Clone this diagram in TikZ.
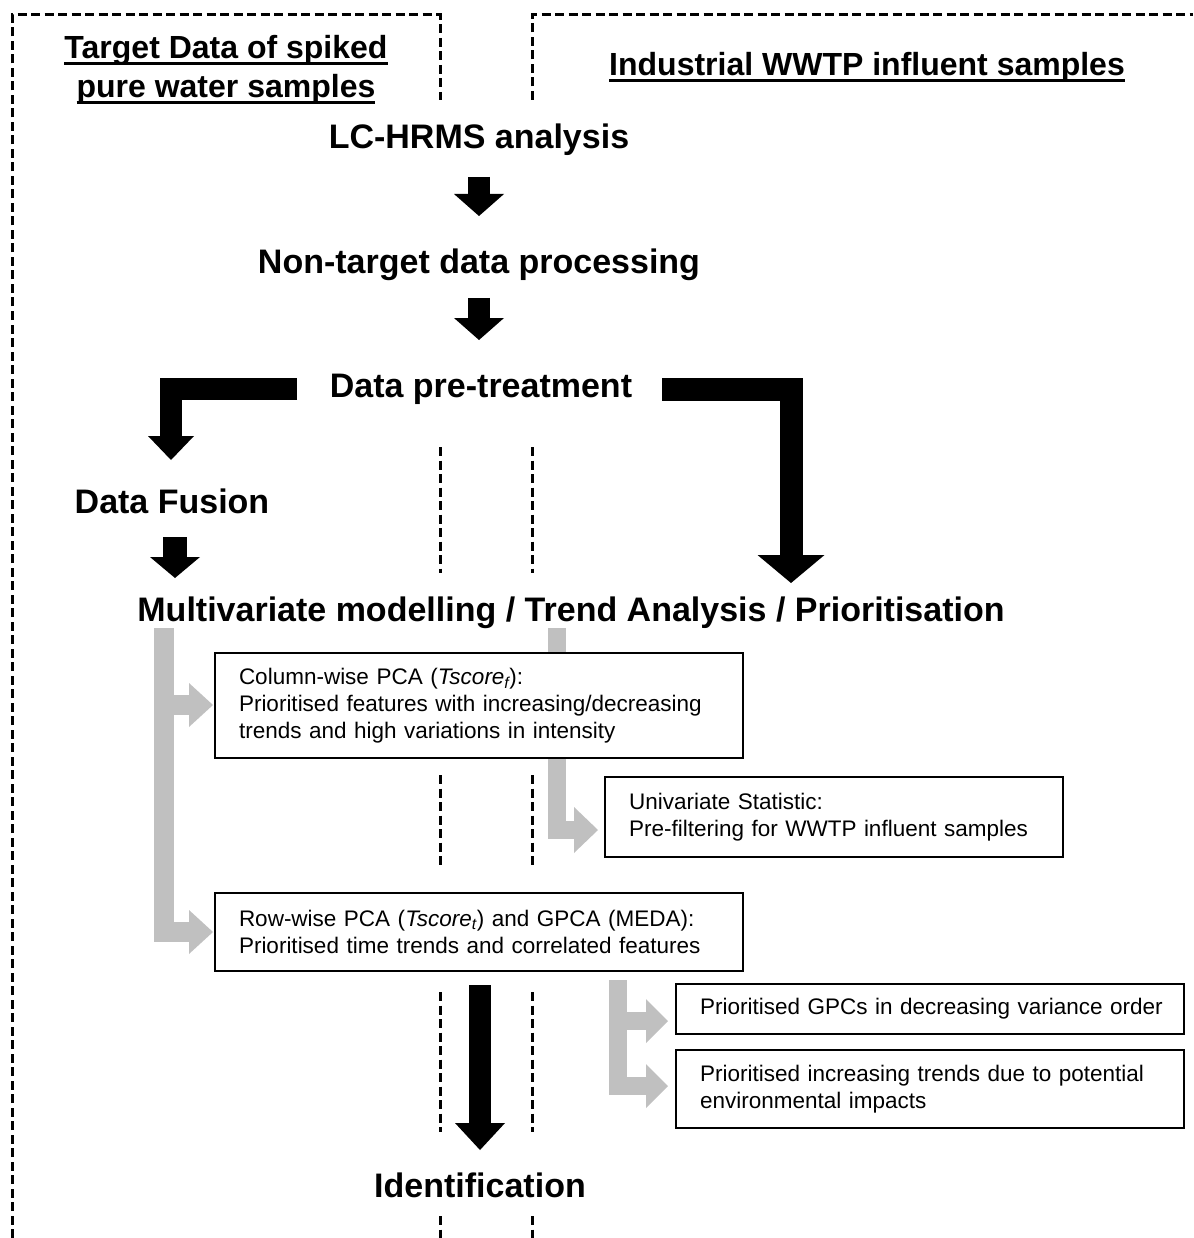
\documentclass[tikz,border=0pt]{standalone}
\usepackage{fontspec}
\setmainfont{Liberation Sans}
\usetikzlibrary{arrows.meta}
\definecolor{lightarrow}{RGB}{192,192,192}
% thick underline for the zone headings
\newcommand{\hdline}[1]{\setbox0\hbox{#1}\rlap{\rule[-6pt]{\wd0}{3pt}}\box0}
\begin{document}
\begin{tikzpicture}[x=1pt,y=-1pt,
  every node/.style={inner sep=0pt},
  stage/.style={font=\fontsize{34}{40}\selectfont\bfseries, anchor=base},
  header/.style={font=\fontsize{32}{39}\selectfont\bfseries, anchor=base},
  stepbox/.style n args={2}{draw, line width=2pt, fill=white, anchor=north west,
    inner xsep=24pt, inner ysep=0pt, align=left, text width=#1-48pt,
    minimum width=#1, minimum height=#2, font=\fontsize{22.5}{27}\selectfont},
  zone/.style={dash pattern=on 9pt off 4.5pt, line width=3pt},
  blockarrow/.style n args={3}{draw=black, line width=#1, line join=miter,
    -{Triangle[width=#2,length=#3,line width=0pt]}},
  greyarrow/.style n args={3}{draw=lightarrow, line width=#1, line join=miter,
    -{Triangle[width=#2,length=#3,line width=0pt]}},
]
\useasboundingbox (0,0) rectangle (1193,1238);

% dashed zone borders
\draw[zone] (12,1238) -- (12,15) -- (440,15) -- (440,100);
\draw[zone] (532,100) -- (532,15) -- (1193,15);
\foreach \ya/\yb in {447/573, 775/868, 992/1132, 1216/1238}{
  \draw[zone] (440,\ya) -- (440,\yb);
  \draw[zone] (532,\ya) -- (532,\yb);
}

% zone headings
\node[header] (tgta) at (226,59) {\hdline{Target Data of spiked}};
\node[header] (tgtb) at (226,98) {\hdline{pure water samples}};
\node[header] (ind) at (867,76) {\hdline{Industrial WWTP influent samples}};

% workflow stages
\node[stage] (lc) at (479,149) {LC-HRMS analysis};
\node[stage] (nt) at (479,274) {Non-target data processing};
\node[stage] (pre) at (481,397) {Data pre-treatment};
\node[stage] (fus) at (172,513) {Data Fusion};
\node[stage] (mv) at (571,621) {Multivariate modelling / Trend Analysis / Prioritisation};
\node[stage] (ident) at (480,1197) {Identification};

% arrow end points
\coordinate (lcA) at (479,177);   \coordinate (ntA) at (479,216);
\coordinate (ntB) at (479,298);   \coordinate (preB) at (479,340);
\coordinate (preL) at (297,389);  \coordinate (fusT) at (171,460);
\coordinate (preR) at (662,389.5);\coordinate (mvR) at (791,583);
\coordinate (fusB) at (175,537);  \coordinate (mvL) at (175,578);
\coordinate (idT) at (480,985);   \coordinate (idB) at (480,1150);

% black flow arrows
\draw[blockarrow={22pt}{50pt}{22pt}] (lcA) -- (ntA);
\draw[blockarrow={22pt}{50pt}{22pt}] (ntB) -- (preB);
\draw[blockarrow={22pt}{46pt}{24pt}] (preL) -| (fusT);
\draw[blockarrow={23pt}{67pt}{28pt}] (preR) -| (mvR);
\draw[blockarrow={24pt}{50pt}{21pt}] (fusB) -- (mvL);
\draw[blockarrow={22pt}{50pt}{27pt}] (idT) -- (idB);

% grey branching arrows
\coordinate (gl) at (164,628);
\coordinate (glA) at (164,705);  \coordinate (boxAin) at (213,705);
\coordinate (glC) at (164,932);  \coordinate (boxCin) at (213,932);
\draw[greyarrow={20pt}{44pt}{24pt}] (gl) -- (glC) -- (boxCin);
\draw[greyarrow={20pt}{44pt}{24pt}] (glA) -- (boxAin);

\coordinate (gm) at (557,628);
\coordinate (gmB) at (557,830); \coordinate (boxBin) at (598,830);
\draw[greyarrow={18pt}{46pt}{24pt}] (gm) -- (gmB) -- (boxBin);

\coordinate (gr) at (618,980);
\coordinate (grD) at (618,1021); \coordinate (boxDin) at (668,1021);
\coordinate (grE) at (618,1086); \coordinate (boxEin) at (668,1086);
\draw[greyarrow={18pt}{44pt}{22pt}] (gr) -- (grE) -- (boxEin);
\draw[greyarrow={18pt}{44pt}{22pt}] (grD) -- (boxDin);

% result boxes
\node[stepbox={528pt}{105pt}] (colpca) at (214,652)
  {\mbox{Column-wise PCA (\textit{Tscore\textsubscript{f}}):}\\
   \mbox{Prioritised features with increasing/decreasing}\\
   \mbox{trends and high variations in intensity}};
\node[stepbox={458pt}{80pt}] (univ) at (604,776)
  {\mbox{Univariate Statistic:}\\
   \mbox{Pre-filtering for WWTP influent samples}};
\node[stepbox={528pt}{78pt}] (rowpca) at (214,892)
  {\mbox{Row-wise PCA (\textit{Tscore\textsubscript{t}}) and GPCA (MEDA):}\\
   \mbox{Prioritised time trends and correlated features}};
\node[stepbox={508pt}{50pt}] (gpcs) at (675,983)
  {\mbox{Prioritised GPCs in decreasing variance order}};
\node[stepbox={508pt}{78pt}] (trends) at (675,1049)
  {\mbox{Prioritised increasing trends due to potential}\\
   \mbox{environmental impacts}};
\end{tikzpicture}
\end{document}
